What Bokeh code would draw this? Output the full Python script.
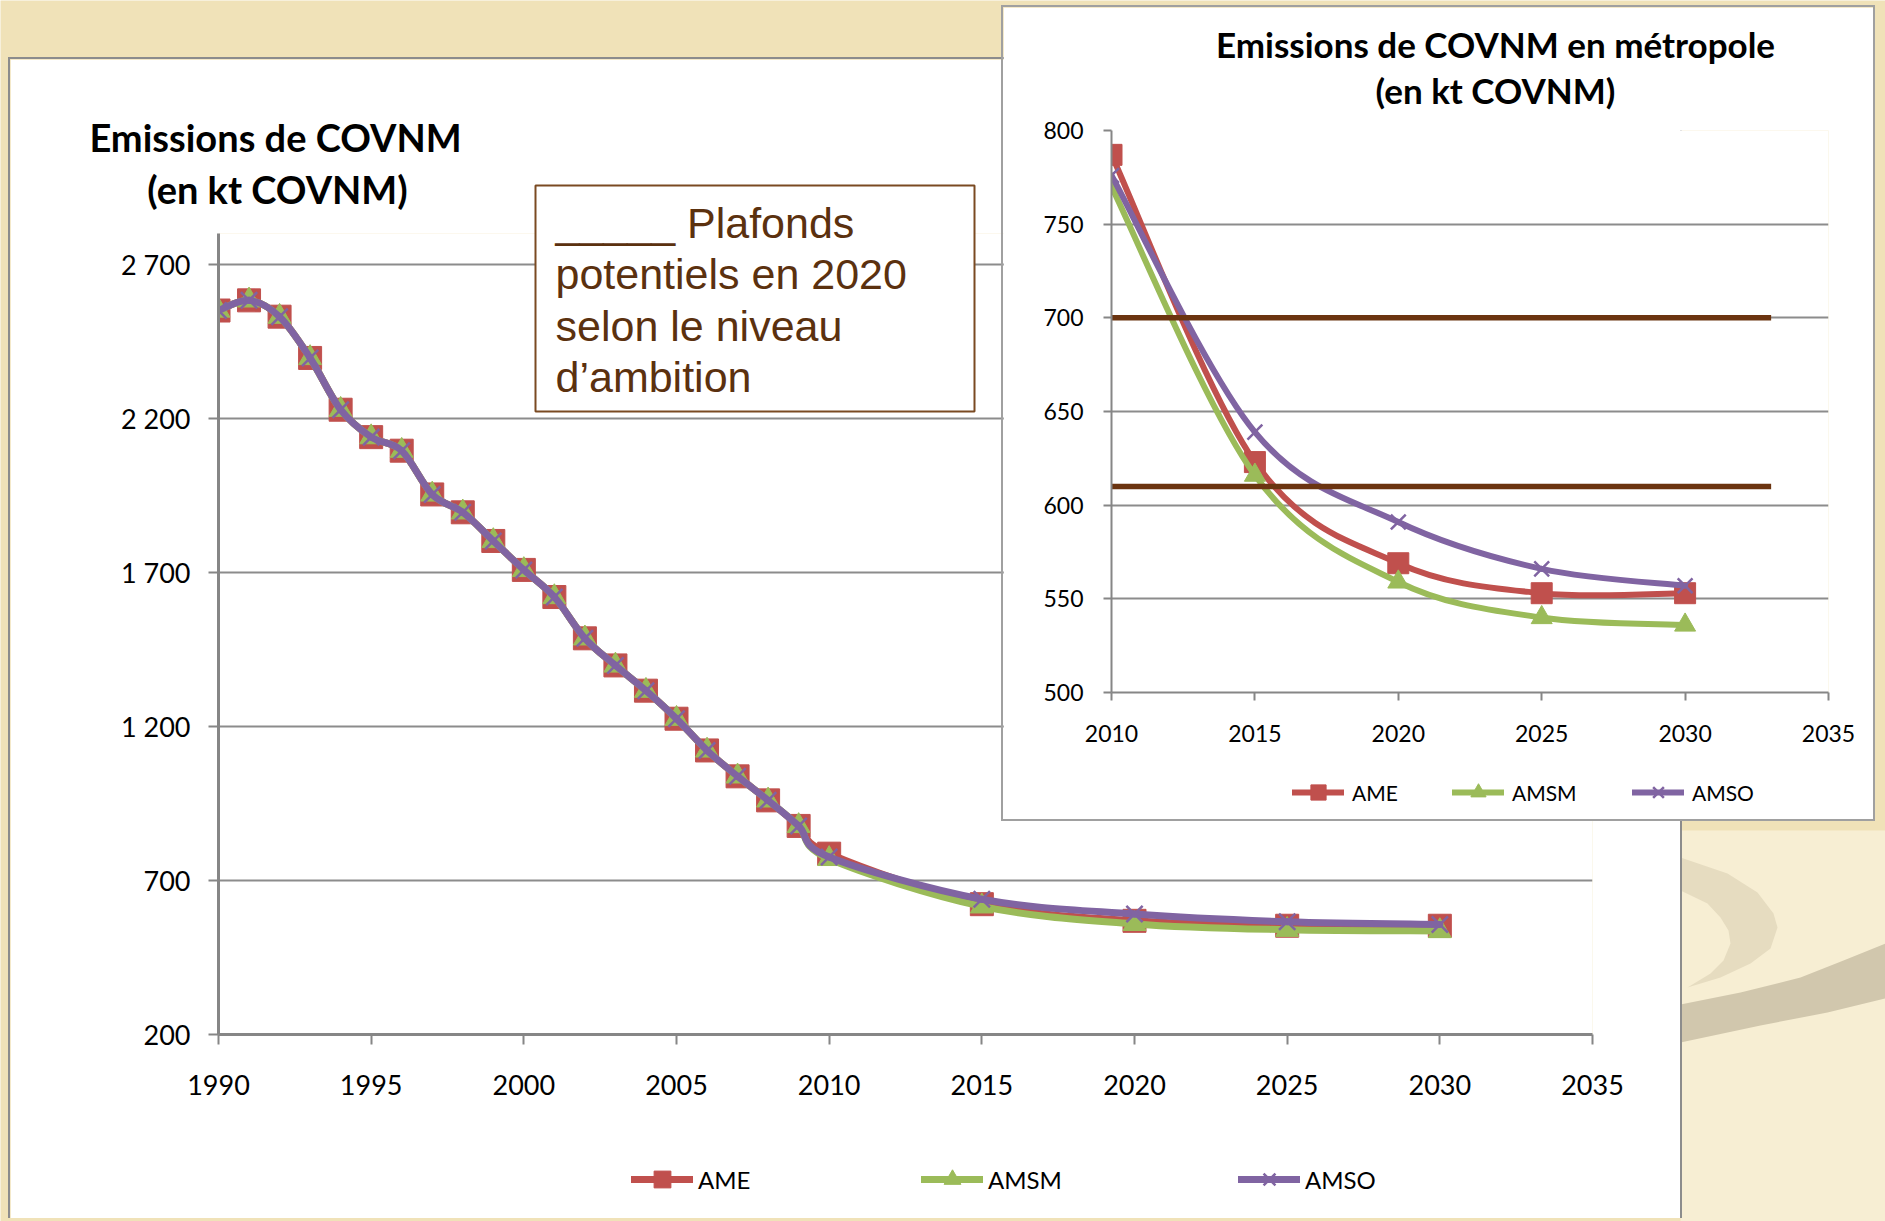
from bokeh.plotting import figure
from bokeh.models import Range1d, FixedTicker, Legend, LegendItem, GridBox
from bokeh.core.properties import value
from bokeh.embed import file_html
from bokeh.resources import INLINE

# ---------------- data ----------------
hist_years = list(range(1990, 2010))
hist_values = [2550, 2583, 2530, 2396, 2228, 2139, 2095, 1953, 1895, 1802, 1708,
               1620, 1486, 1398, 1316, 1225, 1122, 1038, 960, 877]
proj_years = [2010, 2015, 2020, 2025, 2030]
ame = [787, 623, 569, 553, 553]
amsm = [770, 616, 559, 540, 536]
amso = [776, 639, 591, 566, 557]
series_names = ["AME", "AMSM", "AMSO"]
ceilings = [700, 610]
ceiling_from = [2010, 2010]
ceiling_to = [2033, 2033]
main_x_ticks = [1990, 1995, 2000, 2005, 2010, 2015, 2020, 2025, 2030, 2035]
main_y_ticks = [200, 700, 1200, 1700, 2200, 2700]
main_y_labels = ["200", "700", "1 200", "1 700", "2 200", "2 700"]
inset_x_ticks = [2010, 2015, 2020, 2025, 2030, 2035]
inset_y_ticks = [500, 550, 600, 650, 700, 750, 800]
main_title = ["Emissions de COVNM", "(en kt COVNM)"]
inset_title = ["Emissions de COVNM en m\u00e9tropole", "(en kt COVNM)"]
note_lines = ["_____ Plafonds", "potentiels en 2020", "selon le niveau", "d\u2019ambition"]

COLORS = {"AME": "#C0504D", "AMSM": "#9BBB59", "AMSO": "#8064A2"}
MARKERS = {"AME": "square", "AMSM": "triangle", "AMSO": "x"}
GRID = "#8C8C8C"
AXIS = "#868686"
FONT = "Lato"
BROWN = "#6B3410"
NAN = float("nan")


def smooth(xs, ys, t=1.0 / 6.0):
    """Bezier control points (Excel-like smoothing) through the given points."""
    n = len(xs)
    d = dict(x0=[], y0=[], x1=[], y1=[], cx0=[], cy0=[], cx1=[], cy1=[])
    for i in range(n - 1):
        xp, yp = (xs[i - 1], ys[i - 1]) if i > 0 else (xs[i], ys[i])
        xn, yn = (xs[i + 2], ys[i + 2]) if i + 2 < n else (xs[i + 1], ys[i + 1])
        d["x0"].append(xs[i]); d["y0"].append(ys[i])
        d["x1"].append(xs[i + 1]); d["y1"].append(ys[i + 1])
        d["cx0"].append(xs[i] + (xs[i + 1] - xp) * t)
        d["cy0"].append(ys[i] + (ys[i + 1] - yp) * t)
        d["cx1"].append(xs[i + 1] - (xn - xs[i]) * t)
        d["cy1"].append(ys[i + 1] - (yn - ys[i]) * t)
    return d


def style_axes(p, xt, yt, size, standoff_x, standoff_y, tick_out, aw, overrides=None):
    p.xaxis.ticker = FixedTicker(ticks=xt)
    p.yaxis.ticker = FixedTicker(ticks=yt)
    p.ygrid.ticker = FixedTicker(ticks=yt)
    if overrides:
        p.yaxis.major_label_overrides = overrides
    for ax in (p.xaxis, p.yaxis):
        ax.major_label_text_font = FONT
        ax.major_label_text_font_size = size
        ax.major_label_text_color = "black"
        ax.axis_line_color = AXIS
        ax.axis_line_width = aw
        ax.major_tick_line_color = AXIS
        ax.major_tick_line_width = 2
        ax.major_tick_out = tick_out
        ax.major_tick_in = 0
        ax.minor_tick_line_color = None
    p.xaxis.major_label_standoff = standoff_x
    p.yaxis.major_label_standoff = standoff_y
    p.xgrid.visible = False
    p.ygrid.grid_line_color = GRID
    p.ygrid.grid_line_width = 2
    p.outline_line_color = None
    p.background_fill_color = "white"
    p.border_fill_color = "white"


def marker_kw(name, msize):
    c = COLORS[name]
    if MARKERS[name] == "x":
        return dict(marker="x", size=msize, line_color=c, line_width=2.5)
    return dict(marker=MARKERS[name], size=msize, fill_color=c, line_color=c, line_width=1)


def add_series(p, xs, ys, name, lw, msize):
    p.bezier(line_color=COLORS[name], line_width=lw, line_cap="round", **smooth(xs, ys))
    p.scatter(xs, ys, **marker_kw(name, msize))


W, H = 1885, 1221


def pixel_fig(transparent):
    f = figure(width=W, height=H, x_range=Range1d(0, W), y_range=Range1d(H, 0),
               x_axis_location=None, y_axis_location=None, toolbar_location=None,
               output_backend="svg", min_border=0)
    f.grid.visible = False
    f.outline_line_color = None
    if transparent:
        f.background_fill_alpha = 0
        f.border_fill_alpha = 0
    return f


# ---------------- background (slide decoration) ----------------
bg = pixel_fig(False)
bg.background_fill_color = "#F0E2B8"
bg.border_fill_color = "#F0E2B8"
bg.quad(left=[1680], right=[W], top=[830], bottom=[H], fill_color="#F7EED3", line_color=None)
bg.patch([1680, 1727, 1757, 1773, 1777, 1770, 1750, 1720, 1687, 1710, 1723, 1730, 1728,
          1720, 1707, 1680],
         [857, 873, 892, 913, 927, 948, 963, 977, 987, 973, 960, 943, 930, 917, 903, 890],
         fill_color="#E6DCC0", line_color=None)
bg.patch([1680, 1740, 1800, 1843, 1885, 1885, 1827, 1760, 1680],
         [1004, 992, 977, 960, 943, 998, 1012, 1025, 1042],
         fill_color="#D1C7AD", line_color=None)

# ---------------- main chart ----------------
main = figure(width=1674, height=1161, x_range=Range1d(1990, 2035), y_range=Range1d(200, 2800),
              toolbar_location=None, output_backend="svg",
              min_border_left=208, min_border_right=92, min_border_top=174, min_border_bottom=186,
              styles={"border-left": "2px solid #8C8C8C", "border-top": "2px solid #8C8C8C",
                      "border-right": "2px solid #8C8C8C"})
style_axes(main, main_x_ticks, main_y_ticks, "27px", 30, 18, 10, 3,
           dict(zip(main_y_ticks, main_y_labels)))
for name, proj in zip(series_names, [ame, amsm, amso]):
    add_series(main, hist_years + proj_years, hist_values + proj, name, 7, 23)

# ---------------- inset chart ----------------
inset = figure(width=874, height=816, x_range=Range1d(2010, 2035), y_range=Range1d(500, 800),
               toolbar_location=None, output_backend="svg",
               min_border_left=108, min_border_right=49, min_border_top=123, min_border_bottom=131,
               styles={"border": "2px solid #A0A0A0"})
style_axes(inset, inset_x_ticks, inset_y_ticks, "23px", 24, 20, 8, 2)
for name, proj in zip(series_names, [ame, amsm, amso]):
    add_series(inset, proj_years, proj, name, 6, 21)
inset.segment(x0=ceiling_from, y0=ceilings, x1=ceiling_to, y1=ceilings,
              line_color=BROWN, line_width=5.5)

# ---------------- overlay: titles, note box, legends ----------------
ov = pixel_fig(True)
ov.text(x=[275, 277], y=[136.5, 188.5], text=main_title, text_font=value(FONT),
        text_font_style="bold", text_font_size="38px", text_align="center",
        text_baseline="alphabetic", text_color="black")
ov.text(x=[1495, 1495], y=[43, 89], text=inset_title, text_font=value(FONT),
        text_font_style="bold", text_font_size="35px", text_align="center",
        text_baseline="alphabetic", text_color="black")
ov.quad(left=[535], right=[974], top=[185], bottom=[411], fill_color="white",
        line_color="#7A4A22", line_width=2)
ov.text(x=[555] * 4, y=[222, 273.5, 325, 376], text=note_lines,
        text_font=value("Liberation Sans"), text_font_size="43px", text_color="#5B310F",
        text_align="left", text_baseline="alphabetic")


def add_legend(name, left, center_y, gw, gh, lw, standoff, fsize):
    lr = ov.line(x=[NAN], y=[NAN], line_color=COLORS[name], line_width=lw, line_cap="round")
    sr = ov.scatter(x=[NAN], y=[NAN], **marker_kw(name, 10))
    ov.add_layout(Legend(items=[LegendItem(label=name, renderers=[lr, sr])],
                         location=(left, H - (center_y + gh / 2)), orientation="horizontal",
                         padding=0, margin=0, spacing=0, border_line_color=None,
                         background_fill_alpha=0, glyph_width=gw, glyph_height=gh,
                         label_standoff=standoff, label_height=gh, label_text_font=FONT,
                         label_text_font_size=fsize, label_text_color="black"), "center")


for name, lx in zip(series_names, [631, 921, 1238]):
    add_legend(name, lx, 1179, 62, 42, 7, 5, "24px")
for name, lx in zip(series_names, [1292, 1452, 1632]):
    add_legend(name, lx, 792, 52, 38, 6, 8, "21px")

# ---------------- page ----------------
# column boundaries: 0, 8, 1001, 1686, 1879, 1885 ; row boundaries: 0, 5, 57, 825, 1220, 1221
page = GridBox(children=[(bg, 0, 0, 5, 5), (main, 2, 1, 2, 2), (inset, 1, 2, 2, 2),
                         (ov, 0, 0, 5, 5)],
               rows=["5px", "52px", "768px", "395px", "1px"],
               cols=["8px", "993px", "685px", "193px", "6px"], spacing=0)

open("out.html", "w").write(file_html(page, INLINE))
